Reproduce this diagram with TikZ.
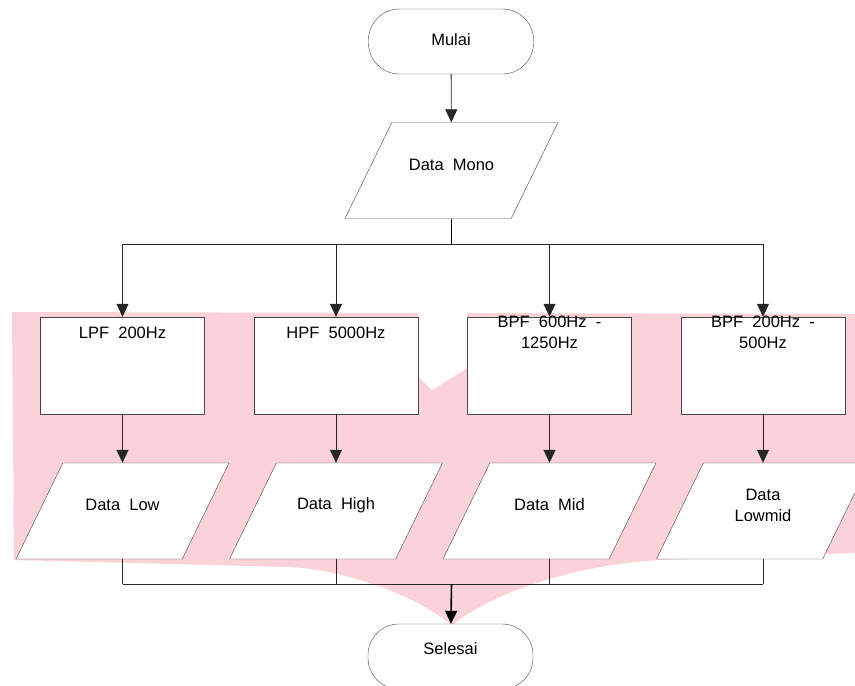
\documentclass[tikz,border=0pt]{standalone}
\usepackage{fontspec}
\setmainfont{Liberation Sans}[WordSpace=2]
\usepackage{tikz}
\usetikzlibrary{shapes.geometric}
\usetikzlibrary{arrows.meta}
\definecolor{stamp}{RGB}{250,210,215}
\definecolor{edge}{RGB}{70,70,70}
\tikzset{>={Triangle[width=12pt,length=13pt]}}

\begin{document}
\begin{tikzpicture}[x=1pt, y=-1pt, font=\fontsize{16.5}{21}\selectfont]
\tikzset{term/.style 2 args={draw=edge, fill=white, rectangle, rounded corners=31pt, minimum width=165pt, minimum height=65pt, inner sep=0pt, label={[yshift=#2]center:#1}}}
\tikzset{io/.style={draw=edge, fill=white, shape=trapezium, trapezium left angle=64, trapezium right angle=116, trapezium stretches body=true, text height=48pt, text depth=48pt, minimum width=213pt, inner sep=0pt, label={[yshift=6pt, align=center]center:#1}}}
\tikzset{procbox/.style={draw=edge, fill=white, rectangle, minimum width=164pt, minimum height=97pt, inner sep=0pt, label={[anchor=center, yshift=-16pt, align=center]north:#1}}}
\tikzset{wire/.style={draw=black!85, line width=0.8pt}, trunk/.style={draw=black, line width=1.6pt}}
    \useasboundingbox (0,0) rectangle (855,686);
    % watermark behind the chart
    \fill[stamp] (12,312) -- (855,314) -- (855,553) -- (660,560) .. controls (560,566) and (480,600) .. (452,626) .. controls (425,600) and (350,570) .. (290,567) -- (14,560) -- cycle;
    \fill[white] (418,312) -- (418,376) -- (432,390) -- (467,368) -- (467,312) -- cycle;

    \coordinate (split) at (451.5,244);
    \coordinate (s1) at (122.5,244);
    \coordinate (s2) at (336,244);
    \coordinate (s3) at (549.5,244);
    \coordinate (s4) at (763,244);
    \coordinate (join) at (451.5,584);
    \coordinate (j1) at (122.5,584);
    \coordinate (j2) at (336,584);
    \coordinate (j3) at (549.5,584);
    \coordinate (j4) at (763,584);

    \node[term={Mulai}{1.5pt}] (start) at (451,41.5) {};
    \node[io={Data Mono}] (mono) at (451.5,170.5) {};

    \node[procbox={LPF 200Hz}] (lpf) at (122.5,365.5) {};
    \node[procbox={HPF 5000Hz}] (hpf) at (336,365.5) {};
    \node[procbox={BPF 600Hz -\\1250Hz}] (bpfmid) at (549.5,365.5) {};
    \node[procbox={BPF 200Hz -\\500Hz}] (bpflowmid) at (763,365.5) {};

    \node[io={Data Low}] (low) at (122.5,511) {};
    \node[io={Data High}] (high) at (336,511) {};
    \node[io={Data Mid}] (mid) at (549.5,511) {};
    \node[io={Data\\Lowmid}] (lowmid) at (763,511) {};

    \node[term={Selesai}{7.5pt}] (stop) at (450.5,656.5) {};
% % % % % % % % % % % % % % % % % % %
    \draw[wire,->] (start) -- (mono);
    \draw[trunk] (mono.south) -- (split);
    \draw[wire] (s1) -- (s4);

    \draw[wire,->] (s1) -- (lpf);
    \draw[wire,->] (s2) -- (hpf);
    \draw[wire,->] (s3) -- (bpfmid);
    \draw[wire,->] (s4) -- (bpflowmid);

    \draw[wire,->] (lpf) -- (low);
    \draw[wire,->] (hpf) -- (high);
    \draw[wire,->] (bpfmid) -- (mid);
    \draw[wire,->] (bpflowmid) -- (lowmid);

    \draw[wire] (low.south) -- (j1);
    \draw[wire] (high.south) -- (j2);
    \draw[wire] (mid.south) -- (j3);
    \draw[wire] (lowmid.south) -- (j4);
    \draw[wire] (j1) -- (j4);
    \draw[trunk,->] (join) -- (stop);
\end{tikzpicture}
\end{document}
